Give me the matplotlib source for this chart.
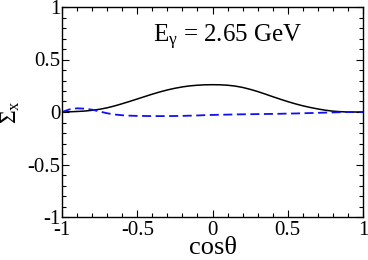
import numpy as np
import matplotlib
matplotlib.use('Agg')
import matplotlib.pyplot as plt
from matplotlib.ticker import MultipleLocator

plt.rcParams['font.family'] = ['Liberation Serif', 'DejaVu Serif']
plt.rcParams['mathtext.fontset'] = 'custom'
plt.rcParams['mathtext.rm'] = 'Liberation Serif'
plt.rcParams['mathtext.it'] = 'Liberation Serif:italic'

# values
cos_theta = [-1.0, -0.95, -0.9, -0.85, -0.8, -0.75, -0.7, -0.65, -0.6, -0.55, -0.5,
             -0.45, -0.4, -0.35, -0.3, -0.25, -0.2, -0.15, -0.1, -0.05, 0.0,
             0.05, 0.1, 0.15, 0.2, 0.25, 0.3, 0.35, 0.4, 0.45, 0.5,
             0.55, 0.6, 0.65, 0.7, 0.75, 0.8, 0.85, 0.9, 0.95, 1.0]
sigma_solid = [0.0, 0.002, 0.005, 0.009, 0.016, 0.026, 0.040, 0.058, 0.079, 0.101, 0.124,
               0.147, 0.170, 0.191, 0.210, 0.226, 0.239, 0.249, 0.255, 0.259, 0.260,
               0.259, 0.255, 0.247, 0.234, 0.216, 0.195, 0.171, 0.146, 0.122, 0.099,
               0.078, 0.059, 0.043, 0.029, 0.017, 0.008, 0.003, 0.0, 0.0, 0.0]
sigma_dashed = [0.0, 0.025, 0.035, 0.032, 0.022, 0.005, -0.012, -0.024, -0.031, -0.035, -0.037,
                -0.038, -0.039, -0.039, -0.039, -0.038, -0.037, -0.035, -0.033, -0.030, -0.028,
                -0.026, -0.025, -0.023, -0.022, -0.021, -0.020, -0.019, -0.018, -0.017, -0.015,
                -0.014, -0.012, -0.010, -0.008, -0.006, -0.004, -0.002, -0.001, 0.0, 0.0]
tick_vals = [-1, -0.5, 0, 0.5, 1]
tick_text = ['-1', '-0.5', '0', '0.5', '1']

fig = plt.figure(figsize=(3.68, 2.60), dpi=100)
ax = fig.add_axes([62/368, 1 - 217/260, (363-62)/368, (217-7)/260])

ax.plot(cos_theta, sigma_solid, color='black', lw=1.1)
ax.plot(cos_theta, sigma_dashed, color='#1010f0', lw=1.3, ls=(0, (5, 2.5)))

ax.set_xlim(-1, 1)
ax.set_ylim(-1, 1)
ax.set_xticks(tick_vals)
ax.set_yticks(tick_vals)
ax.set_xticklabels(tick_text)
ax.set_yticklabels(tick_text)
ax.xaxis.set_minor_locator(MultipleLocator(0.1))
ax.yaxis.set_minor_locator(MultipleLocator(0.1))
ax.tick_params(which='both', direction='in', top=True, right=True, labelsize=15)
ax.tick_params(axis='x', pad=3)
ax.tick_params(axis='y', pad=1)
ax.tick_params(which='major', length=5, width=0.8)
ax.tick_params(which='minor', length=3, width=0.8)
for s in ax.spines.values():
    s.set_linewidth(1.0)

ax.set_xlabel('cosθ', fontsize=19, labelpad=-2)
ax.set_ylabel(r'Σ$_{\mathrm{x}}$', fontsize=17, labelpad=4)
ax.text(0.10, 0.71, r'E$_{\mathrm{γ}}$ = 2.65 GeV', fontsize=18, ha='center', va='center')

fig.savefig('out.png', dpi=100)
